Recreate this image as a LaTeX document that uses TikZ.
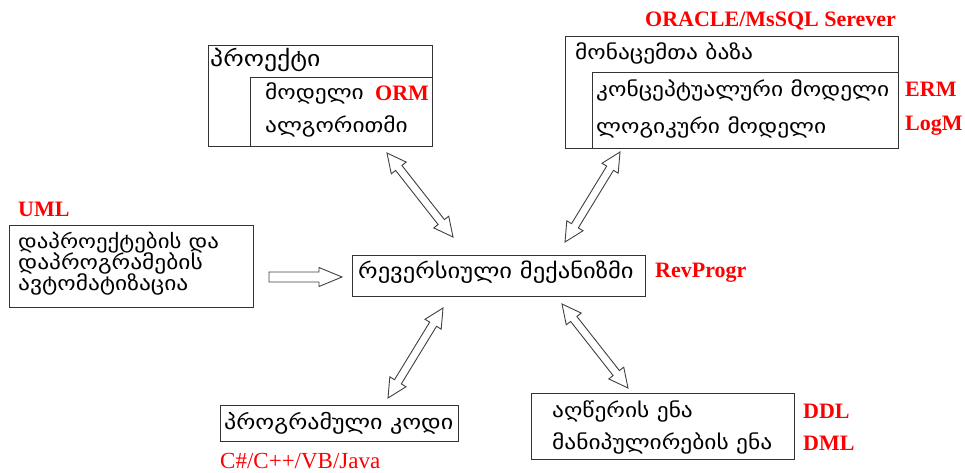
\documentclass[tikz,border=0pt]{standalone}
\usepackage{fontspec}
\setmainfont[FakeStretch=1.17]{DejaVu Sans}
\newfontfamily\lblfont{Liberation Serif}
\usetikzlibrary{calc}
\tikzset{
 box/.style={draw=black!80, line width=1.3pt, rectangle, inner sep=0pt, anchor=north west},
 geo/.style={font=\fontsize{20}{22}\selectfont, anchor=west, inner sep=0pt, text=black},
 geosz/.style={font=\fontsize{#1}{22}\selectfont},
 lbl/.style={font=\lblfont\bfseries\fontsize{22}{24}\selectfont, text=red, anchor=west, inner sep=0pt},
 lbln/.style={font=\lblfont\fontsize{23}{25}\selectfont, text=red, anchor=west, inner sep=0pt},
 arr/.style={draw=black!75, line width=0.9pt, fill=white, line join=miter},
}
\newcommand\hdarrow[5]{%
 \path[arr] (#1) -- ($(#1)!#3!(#2)!#4!90:(#2)$) -- ($(#1)!#3!(#2)!#5!90:(#2)$) -- ($(#2)!#3!(#1)!#5!-90:(#1)$) -- ($(#2)!#3!(#1)!#4!-90:(#1)$) -- (#2) -- ($(#2)!#3!(#1)!#4!90:(#1)$) -- ($(#2)!#3!(#1)!#5!90:(#1)$) -- ($(#1)!#3!(#2)!#5!-90:(#2)$) -- ($(#1)!#3!(#2)!#4!-90:(#2)$) -- cycle;}
\newcommand\hsarrow[5]{%
 \path[arr] ($(#1)!#5!90:(#2)$) -- ($(#2)!#3!(#1)!#5!-90:(#1)$) -- ($(#2)!#3!(#1)!#4!-90:(#1)$) -- (#2) -- ($(#2)!#3!(#1)!#4!90:(#1)$) -- ($(#2)!#3!(#1)!#5!90:(#1)$) -- ($(#1)!#5!-90:(#2)$) -- cycle;}
\begin{document}
\begin{tikzpicture}[x=1pt,y=-1pt]
\useasboundingbox (0,0) rectangle (965,472);
% boxes
\node[box, minimum width=224pt, minimum height=101pt] (proj) at (208,45) {};
\node[box, minimum width=182pt, minimum height=69pt] (projin) at (250,77) {};
\node[box, minimum width=333pt, minimum height=112pt] (db) at (565,36) {};
\node[box, minimum width=306pt, minimum height=76pt] (dbin) at (592,72) {};
\node[box, minimum width=244pt, minimum height=82pt] (auto) at (9,225) {};
\node[box, minimum width=293pt, minimum height=41pt] (rev) at (352,255) {};
\node[box, minimum width=238pt, minimum height=36pt] (code) at (220,405) {};
\node[box, minimum width=263pt, minimum height=66pt] (lang) at (531,393) {};
% texts
\node[geo, geosz=22] (t1) at (210,60) {პროექტი};
\node[geo] (t2) at (265,93) {მოდელი};
\node[lbl] (orm) at (375,93) {ORM};
\node[geo] (t3) at (265,126) {ალგორითმი};
\node[lbl] (ora) at (645,21) {ORACLE/MsSQL Serever};
\node[geo] (t4) at (575,53) {მონაცემთა ბაზა};
\node[geo] (t5) at (596,90) {კონცეპტუალური მოდელი};
\node[geo] (t6) at (596,127) {ლოგიკური მოდელი};
\node[lbl] (erm) at (905,89) {ERM};
\node[lbl] (logm) at (905,126) {LogM};
\node[lbl] (uml) at (18,209) {UML};
\node[geo, geosz=19.5] (t7) at (18,243) {დაპროექტების და};
\node[geo] (t8) at (18,263) {დაპროგრამების};
\node[geo] (t9) at (18,284) {ავტომატიზაცია};
\node[geo, geosz=21] (t10) at (358,272) {რევერსიული მექანიზმი};
\node[lbl] (revp) at (655,273) {RevProgr};
\node[geo, geosz=20.5] (t11) at (224,423) {პროგრამული კოდი};
\node[lbln] (cs) at (220,461) {C\#/C++/VB/Java};
\node[geo] (t12) at (552,411) {აღწერის ენა};
\node[geo] (t13) at (552,443) {მანიპულირების ენა};
\node[lbl] (ddl) at (803,411) {DDL};
\node[lbl] (dml) at (803,443) {DML};
% arrow end points
\coordinate (a1s) at (387,153); \coordinate (a1e) at (453,237);
\coordinate (a2s) at (620,152); \coordinate (a2e) at (565,242);
\coordinate (a3s) at (443,308); \coordinate (a3e) at (388,398);
\coordinate (a4s) at (562,304); \coordinate (a4e) at (628,388);
\coordinate (a5s) at (269,277); \coordinate (a5e) at (342,277);
\hdarrow{a1s}{a1e}{19pt}{9.5pt}{4pt}
\hdarrow{a2s}{a2e}{19pt}{9.5pt}{4pt}
\hdarrow{a3s}{a3e}{19pt}{9.5pt}{4pt}
\hdarrow{a4s}{a4e}{19pt}{9.5pt}{4pt}
\hsarrow{a5s}{a5e}{23pt}{9.5pt}{5pt}
\end{tikzpicture}
\end{document}
